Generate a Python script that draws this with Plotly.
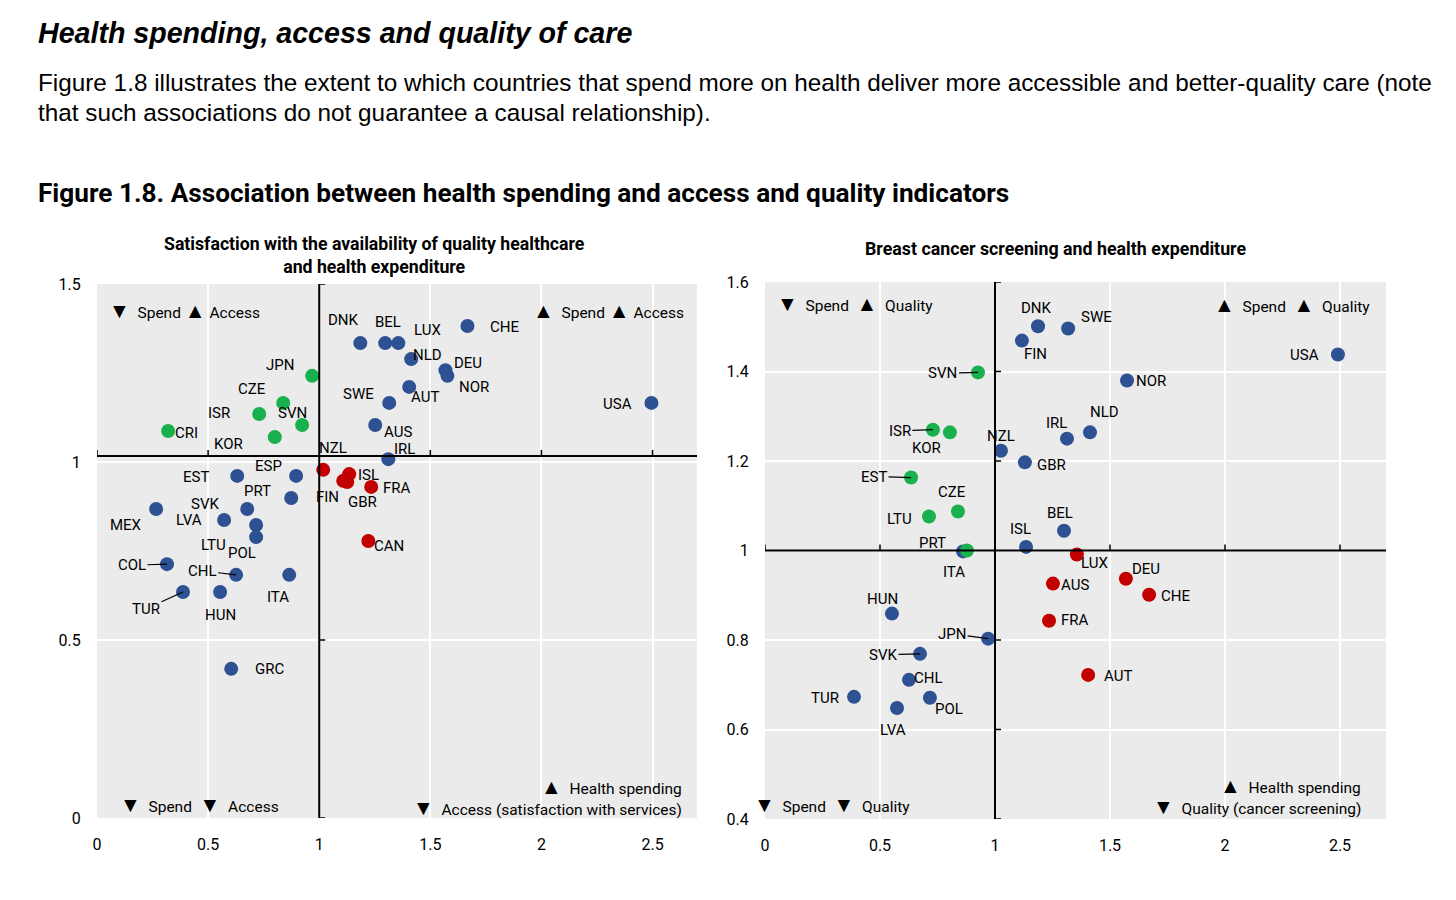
import plotly.graph_objects as go

W, H = 1456, 900

# ---------------- data: left panel (health spending vs access) ----------------
left_countries = ["USA", "CHE", "DNK", "BEL", "LUX", "NLD", "DEU", "NOR", "AUT", "SWE", "AUS", "IRL",
                  "EST", "ESP", "PRT", "MEX", "SVK", "LVA", "LTU", "POL", "COL", "CHL", "ITA", "TUR",
                  "HUN", "GRC",
                  "CRI", "JPN", "CZE", "ISR", "SVN", "KOR",
                  "NZL", "ISL", "FIN", "GBR", "FRA", "CAN"]
left_spend = [2.495, 1.667, 1.185, 1.297, 1.356, 1.414, 1.568, 1.577, 1.405, 1.315, 1.252, 1.311,
              0.631, 0.896, 0.874, 0.266, 0.676, 0.572, 0.716, 0.716, 0.315, 0.626, 0.865, 0.387,
              0.554, 0.604,
              0.320, 0.968, 0.838, 0.730, 0.923, 0.800,
              1.018, 1.135, 1.108, 1.126, 1.234, 1.221]
left_access = [1.166, 1.382, 1.334, 1.334, 1.334, 1.289, 1.258, 1.242, 1.211, 1.166, 1.104, 1.008,
               0.961, 0.961, 0.899, 0.868, 0.868, 0.837, 0.823, 0.789, 0.713, 0.683, 0.683, 0.635,
               0.635, 0.419,
               1.087, 1.242, 1.166, 1.135, 1.104, 1.070,
               0.978, 0.966, 0.947, 0.944, 0.930, 0.778]
left_group = ["B"] * 26 + ["G"] * 6 + ["R"] * 6

# ---------------- data: right panel (health spending vs screening) ----------------
right_countries = ["DNK", "FIN", "SWE", "USA", "NOR", "NLD", "IRL", "NZL", "GBR", "BEL", "ISL", "ITA",
                   "HUN", "JPN", "SVK", "CHL", "TUR", "POL", "LVA",
                   "SVN", "ISR", "KOR", "EST", "CZE", "LTU", "PRT",
                   "LUX", "DEU", "AUS", "CHE", "FRA", "AUT"]
right_spend = [1.187, 1.117, 1.318, 2.491, 1.574, 1.413, 1.313, 1.026, 1.130, 1.300, 1.135, 0.861,
               0.552, 0.970, 0.674, 0.626, 0.387, 0.717, 0.574,
               0.926, 0.730, 0.804, 0.635, 0.839, 0.713, 0.878,
               1.356, 1.569, 1.252, 1.670, 1.235, 1.405]
right_quality = [1.501, 1.469, 1.496, 1.438, 1.380, 1.264, 1.250, 1.223, 1.197, 1.044, 1.008, 0.998,
                 0.859, 0.803, 0.769, 0.711, 0.673, 0.671, 0.648,
                 1.398, 1.270, 1.264, 1.163, 1.087, 1.076, 1.000,
                 0.991, 0.937, 0.926, 0.901, 0.843, 0.722]
right_group = ["B"] * 19 + ["G"] * 7 + ["R"] * 6

# axis ticks and reference (average) lines
x_ticks = [0, 0.5, 1, 1.5, 2, 2.5]
left_y_ticks = [0, 0.5, 1, 1.5]
right_y_ticks = [0.4, 0.6, 0.8, 1, 1.2, 1.4, 1.6]
ref_spend = 1.0
left_ref_access = 1.017
right_ref_quality = 1.0

# ---------------- styling / label placement (screen px offsets from the dot) ----------------
COLORS = {"B": "#2D5192", "G": "#19B04E", "R": "#C30000"}
NARROW = "Roboto, Liberation Sans, sans-serif"
SANS = "Liberation Sans, Arial, sans-serif"
LBL = 15

left_offsets = {
    "DNK": (-17, -23), "BEL": (3, -21), "LUX": (29, -13), "CHE": (37, 1), "NLD": (16, -4),
    "DEU": (23, -7), "NOR": (27, 11), "AUT": (16, 10), "SWE": (-31, -9), "AUS": (23, 7),
    "IRL": (16, -10), "USA": (-34, 1), "JPN": (-32, -11), "CZE": (-31, -14), "ISR": (-40, -1),
    "SVN": (-10, -12), "CRI": (18, 2), "KOR": (-46, 7), "NZL": (10, -22), "ISL": (19, 1),
    "FIN": (-16, 16), "GBR": (15, 20), "FRA": (26, 1), "CAN": (21, 5), "EST": (-41, 1),
    "ESP": (-28, -10), "PRT": (-34, -7), "MEX": (-30, 16), "SVK": (-42, -5), "LVA": (-35, 0),
    "LTU": (-43, 20), "POL": (-14, 16), "COL": (-35, 1), "CHL": (-34, -4), "ITA": (-11, 22),
    "TUR": (-37, 17), "HUN": (0, 23), "GRC": (38, 0),
}
left_leaders = {"COL", "CHL", "TUR"}

right_offsets = {
    "DNK": (-2, -18), "FIN": (14, 13), "SWE": (28, -12), "USA": (-33, 0), "NOR": (24, 1),
    "NLD": (15, -20), "IRL": (-10, -16), "NZL": (0, -15), "GBR": (27, 3), "BEL": (-4, -18),
    "ISL": (-6, -18), "ITA": (-9, 21), "HUN": (-9, -15), "JPN": (-36, -5), "SVK": (-37, 1),
    "CHL": (20, -2), "TUR": (-29, 1), "POL": (19, 11), "LVA": (-4, 22), "SVN": (-35, 1),
    "ISR": (-33, 1), "KOR": (-23, 16), "EST": (-37, -1), "CZE": (-6, -20), "LTU": (-29, 3),
    "PRT": (-34, -8), "LUX": (18, 8), "DEU": (20, -10), "AUS": (22, 1), "CHE": (26, 1),
    "FRA": (26, -1), "AUT": (30, 1),
}
right_leaders = {"JPN", "SVK", "SVN", "ISR", "EST"}

fig = go.Figure()


def add_points(countries, xs, ys, groups, xa, ya):
    for g in ["B", "G", "R"]:
        idx = [i for i, gg in enumerate(groups) if gg == g]
        fig.add_trace(go.Scatter(
            x=[xs[i] for i in idx], y=[ys[i] for i in idx],
            text=[countries[i] for i in idx],
            mode="markers", xaxis=xa, yaxis=ya, showlegend=False,
            marker=dict(size=14, color=COLORS[g], line=dict(width=0)),
            hoverinfo="text",
        ))


add_points(left_countries, left_spend, left_access, left_group, "x", "y")
add_points(right_countries, right_spend, right_quality, right_group, "x2", "y2")

annotations = []


def add_labels(countries, xs, ys, offsets, leaders, xref, yref):
    for c, xv, yv in zip(countries, xs, ys):
        dx, dy = offsets[c]
        if c in leaders:
            annotations.append(dict(
                x=xv, y=yv, xref=xref, yref=yref, text=c, showarrow=True,
                ax=dx, ay=dy, arrowhead=0, arrowwidth=1.2, arrowcolor="black", standoff=0,
                font=dict(family=NARROW, size=LBL, color="black")))
        else:
            annotations.append(dict(
                x=xv, y=yv, xref=xref, yref=yref, text=c, showarrow=False,
                xshift=dx, yshift=-dy, xanchor="center", yanchor="middle",
                font=dict(family=NARROW, size=LBL, color="black")))


add_labels(left_countries, left_spend, left_access, left_offsets, left_leaders, "x", "y")
add_labels(right_countries, right_spend, right_quality, right_offsets, right_leaders, "x2", "y2")

NB = "\u00a0"
DN = '<span style="font-size:21px">▼</span>'
UP = '<span style="font-size:21px">▲</span>'


def quad(text, x, y, xref, yref, xanchor):
    annotations.append(dict(text=text, x=x, y=y, xref=xref, yref=yref, xanchor=xanchor,
                            yanchor="middle", showarrow=False,
                            font=dict(family=NARROW, size=15.5, color="black")))


# left panel quadrant notes
quad(DN + NB * 2 + "Spend " + UP + NB + "Access", 0.017, 0.949, "x domain", "y domain", "left")
quad(UP + NB * 2 + "Spend " + UP + NB + "Access", 0.982, 0.949, "x domain", "y domain", "right")
quad(DN + NB * 2 + "Spend" + NB * 2 + DN + NB * 2 + "Access", 0.035, 0.024, "x domain", "y domain", "left")
quad(UP + NB * 2 + "Health spending", 0.978, 0.058, "x domain", "y domain", "right")
quad(DN + NB * 2 + "Access (satisfaction with services)", 0.978, 0.019, "x domain", "y domain", "right")
# right panel quadrant notes
quad(DN + NB * 2 + "Spend" + NB * 2 + UP + NB * 2 + "Quality", 0.016, 0.959, "x2 domain", "y2 domain", "left")
quad(UP + NB * 2 + "Spend" + NB * 2 + UP + NB * 2 + "Quality", 0.977, 0.957, "x2 domain", "y2 domain", "right")
quad(DN + NB * 2 + "Spend" + NB * 2 + DN + NB * 2 + "Quality", -0.021, 0.026, "x2 domain", "y2 domain", "left")
quad(UP + NB * 2 + "Health spending", 0.963, 0.061, "x2 domain", "y2 domain", "right")
quad(DN + NB * 2 + "Quality (cancer screening)", 0.963, 0.022, "x2 domain", "y2 domain", "right")


def ptext(text, px, py, size, family, xanchor="left", weight="normal", style="normal"):
    annotations.append(dict(text=text, x=px / W, y=1 - py / H, xref="paper", yref="paper",
                            xanchor=xanchor, yanchor="middle", showarrow=False, align="center",
                            font=dict(family=family, size=size, color="black", weight=weight, style=style)))


ptext("Health spending, access and quality of care", 36, 33, 28.6, SANS, weight="bold", style="italic")
ptext("Figure 1.8 illustrates the extent to which countries that spend more on health deliver more "
      "accessible and better-quality care (note", 36, 82, 24.3, SANS)
ptext("that such associations do not guarantee a causal relationship).", 36, 112, 24.3, SANS)
ptext("Figure 1.8. Association between health spending and access and quality indicators",
      36, 193, 26.2, NARROW, weight="bold")
ptext("Satisfaction with the availability of quality healthcare<br>and health expenditure",
      375, 255, 17.7, NARROW, xanchor="center", weight="bold")
ptext("Breast cancer screening and health expenditure", 1055, 249, 17.8, NARROW,
      xanchor="center", weight="bold")

# reference lines through the averages, with small tick marks
shapes = []


def ref_lines(xref, yref, xmax, ymin, ymax, yref_val, yticks):
    line = dict(color="black", width=2)
    shapes.append(dict(type="line", xref=xref, yref=yref, x0=0, x1=xmax, y0=yref_val, y1=yref_val,
                       line=line, layer="above"))
    shapes.append(dict(type="line", xref=xref, yref=yref, x0=ref_spend, x1=ref_spend, y0=ymin, y1=ymax,
                       line=line, layer="above"))
    for t in x_ticks:
        if t == ref_spend:
            continue
        shapes.append(dict(type="line", xref=xref, yref=yref, ysizemode="pixel", yanchor=yref_val,
                           x0=t, x1=t, y0=0, y1=6, line=dict(color="black", width=1.5)))
    for t in yticks:
        if abs(t - yref_val) < 0.05:
            continue
        shapes.append(dict(type="line", xref=xref, yref=yref, xsizemode="pixel", xanchor=ref_spend,
                           x0=0, x1=6, y0=t, y1=t, line=dict(color="black", width=1.5)))


ref_lines("x", "y", 2.7, 0, 1.5, left_ref_access, left_y_ticks)
ref_lines("x2", "y2", 2.7, 0.4, 1.6, right_ref_quality, right_y_ticks)

tickfont = dict(family=NARROW, size=16, color="black")
common_x = dict(range=[0, 2.7], tickvals=x_ticks, ticktext=[f"{t:g}" for t in x_ticks],
                showgrid=True, gridcolor="white", gridwidth=2, zeroline=False, showline=False,
                ticks="outside", ticklen=12, tickcolor="rgba(0,0,0,0)", tickfont=tickfont,
                fixedrange=True, automargin=False)
common_y = dict(showgrid=True, gridcolor="white", gridwidth=2, zeroline=False, showline=False,
                ticks="outside", ticklen=12, tickcolor="rgba(0,0,0,0)", tickfont=tickfont,
                fixedrange=True, automargin=False)

fig.update_layout(
    width=W, height=H,
    margin=dict(l=0, r=0, t=0, b=0, autoexpand=False),
    paper_bgcolor="white",
    plot_bgcolor="#EBEBEB",
    showlegend=False,
    xaxis=dict(domain=[97 / W, 697 / W], anchor="y", **common_x),
    yaxis=dict(domain=[(H - 818) / H, (H - 284) / H], anchor="x", range=[0, 1.5],
               tickvals=left_y_ticks, ticktext=[f"{t:g}" for t in left_y_ticks], **common_y),
    xaxis2=dict(domain=[765 / W, 1386 / W], anchor="y2", **common_x),
    yaxis2=dict(domain=[(H - 819) / H, (H - 282) / H], anchor="x2", range=[0.4, 1.6],
                tickvals=right_y_ticks, ticktext=[f"{t:g}" for t in right_y_ticks], **common_y),
    annotations=annotations,
    shapes=shapes,
)

fig.write_html("out.html", config={"displayModeBar": False},
               post_script="document.body.style.margin='0';document.body.style.overflow='hidden';")
